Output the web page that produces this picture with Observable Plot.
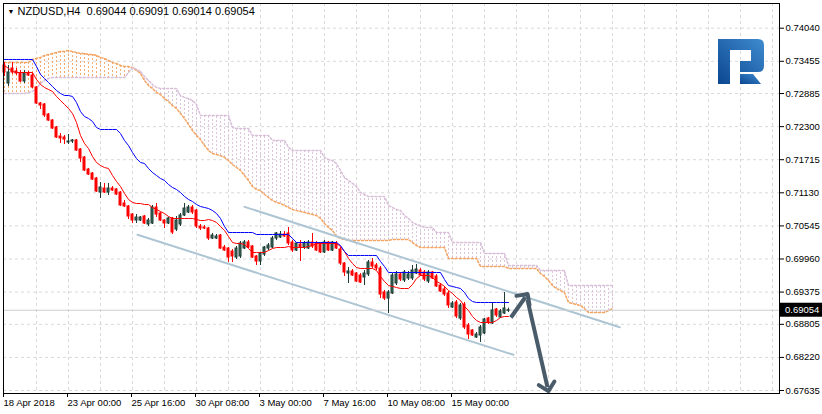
<!DOCTYPE html>
<html><head><meta charset="utf-8">
<script src="https://cdn.jsdelivr.net/npm/d3@7"></script>
<script src="https://cdn.jsdelivr.net/npm/@observablehq/plot@0.6"></script>
<style>
html,body{margin:0;padding:0;background:#fff;}
#chart{position:relative;width:822px;height:414px;overflow:hidden;}
</style></head><body><div id="chart"></div>
<script>
const symbol = "NZDUSD,H4";
const opens = [
.73381,.73062,.73328,.73275,.73239,.73098,.73239,.73204,.72992,.72709,
.72691,.72514,.72408,.72285,.72125,.72108,.72019,.72037,.72055,.71896,
.71754,.71542,.71471,.71383,.71135,.71206,.71135,.71206,.71189,.71135,
.70941,.70888,.70746,.70640,.70640,.70711,.70570,.70587,.70870,.70764,
.70640,.70587,.70676,.70481,.70570,.70729,.70782,.70870,.70817,.70534,
.70517,.70499,.70322,.70322,.70375,.70163,.70145,.70092,.69986,.70004,
.70145,.70252,.70181,.70004,.69916,.70039,.70145,.70163,.70322,.70340,
.70393,.70411,.70251,.70110,.70216,.70163,.70145,.70251,.70234,.70234,
.70075,.70251,.70110,.70234,.70128,.69880,.69703,.69739,.69703,.69668,
.69633,.69686,.69898,.69845,.69792,.69368,.69261,.69350,.69527,.69686,
.69580,.69615,.69615,.69703,.69756,.69721,.69562,.69721,.69650,.69491,
.69421,.69350,.69102,.69191,.68908,.69155,.68784,.68696,.68572,.68607,
.68643,.68908,.68819,.69067,.68926,.68996,.69044];
const highs = [
.73434,.73381,.73434,.73328,.73292,.73292,.73275,.73239,.73009,.72726,
.72709,.72532,.72426,.72302,.72178,.72143,.72161,.72072,.72072,.71913,
.71772,.71559,.71489,.71401,.71312,.71295,.71295,.71241,.71206,.71153,
.70994,.70906,.70764,.70746,.70711,.70729,.70676,.70906,.70941,.70782,
.70658,.70693,.70693,.70711,.70764,.70941,.70906,.70906,.70835,.70570,
.70552,.70517,.70411,.70393,.70393,.70199,.70163,.70128,.70181,.70269,
.70287,.70287,.70199,.70022,.70075,.70181,.70234,.70358,.70428,.70446,
.70446,.70517,.70287,.70251,.70287,.70269,.70287,.70411,.70269,.70251,
.70287,.70269,.70269,.70269,.70163,.69898,.69809,.69774,.69721,.69703,
.69756,.69933,.69969,.69880,.69827,.69403,.69403,.69703,.69739,.69721,
.69756,.69739,.69845,.69863,.69792,.69756,.69756,.69739,.69686,.69527,
.69474,.69385,.69208,.69226,.69173,.69191,.68819,.68713,.68660,.68784,
.68908,.68926,.69191,.69085,.69067,.69368,.69091];
const lows = [
.73186,.73009,.73222,.73204,.73080,.73062,.73186,.72974,.72691,.72603,
.72461,.72391,.72249,.72090,.72002,.71984,.71984,.72002,.71860,.71666,
.71507,.71436,.71348,.71135,.71029,.71118,.71082,.71153,.71082,.70888,
.70870,.70658,.70587,.70587,.70623,.70570,.70534,.70570,.70693,.70623,
.70499,.70570,.70393,.70446,.70534,.70711,.70764,.70746,.70499,.70464,
.70481,.70287,.70304,.70304,.70128,.70092,.69898,.69898,.69951,.69969,
.70128,.70145,.69969,.69845,.69845,.70004,.70110,.70145,.70287,.70322,
.70340,.70198,.70075,.70092,.69916,.70128,.70128,.70145,.70092,.70057,
.70057,.70092,.70092,.70128,.69845,.69650,.69527,.69650,.69544,.69527,
.69491,.69650,.69792,.69756,.69261,.69226,.68996,.69332,.69491,.69562,
.69544,.69580,.69580,.69686,.69650,.69562,.69527,.69597,.69456,.69368,
.69297,.69085,.69085,.68908,.68873,.68713,.68537,.68590,.68554,.68484,
.68625,.68802,.68802,.68926,.68908,.68979,.69014];
const closes = [
.73257,.73257,.73257,.73239,.73098,.73239,.73204,.72992,.72709,.72673,
.72497,.72408,.72267,.72108,.72090,.72072,.72037,.72055,.71878,.71736,
.71524,.71453,.71365,.71153,.71224,.71135,.71206,.71171,.71100,.70906,
.70888,.70711,.70640,.70693,.70693,.70587,.70640,.70870,.70746,.70640,
.70587,.70676,.70428,.70640,.70729,.70852,.70870,.70782,.70534,.70499,
.70499,.70322,.70375,.70358,.70145,.70110,.69986,.70004,.70145,.70234,
.70252,.70163,.69986,.69916,.70057,.70163,.70198,.70322,.70411,.70393,
.70358,.70234,.70110,.70234,.70163,.70234,.70251,.70181,.70110,.70075,
.70251,.70110,.70251,.70145,.69880,.69721,.69739,.69668,.69562,.69544,
.69703,.69898,.69827,.69792,.69332,.69261,.69368,.69668,.69686,.69597,
.69721,.69686,.69756,.69774,.69668,.69597,.69721,.69615,.69474,.69385,
.69332,.69138,.69173,.68943,.69138,.68749,.68625,.68607,.68625,.68749,
.68890,.68837,.69049,.68961,.69032,.69085,.69054];
const tenkan = [
.73381,.73328,.73275,.73257,.73257,.73257,.73257,.73257,.73133,.73045,
.72992,.72956,.72921,.72833,.72762,.72691,.72620,.72532,.72373,.72143,
.72002,.71913,.71772,.71666,.71613,.71577,.71560,.71436,.71330,.71241,
.71118,.71012,.70959,.70941,.70941,.70923,.70923,.70870,.70835,.70800,
.70764,.70711,.70676,.70676,.70676,.70676,.70676,.70676,.70658,.70640,
.70640,.70658,.70640,.70605,.70534,.70464,.70358,.70251,.70234,.70234,
.70216,.70145,.70075,.70075,.70075,.70075,.70110,.70145,.70163,.70163,
.70163,.70181,.70163,.70163,.70163,.70163,.70181,.70198,.70234,.70234,
.70234,.70234,.70234,.70234,.70181,.70092,.69969,.69880,.69809,.69792,
.69792,.69792,.69792,.69756,.69650,.69562,.69491,.69474,.69456,.69438,
.69438,.69438,.69509,.69615,.69668,.69668,.69668,.69633,.69562,.69527,
.69474,.69403,.69350,.69279,.69226,.69120,.69049,.68943,.68873,.68837,
.68837,.68837,.68837,.68873,.68926,.68943,.68943];
const kijun = [
.73487,.73487,.73487,.73487,.73487,.73487,.73487,.73487,.73363,.73222,
.73151,.73080,.73009,.72939,.72886,.72850,.72850,.72833,.72726,.72567,
.72479,.72444,.72391,.72285,.72249,.72249,.72249,.72249,.72249,.72178,
.72055,.71966,.71843,.71736,.71666,.71648,.71560,.71489,.71436,.71383,
.71348,.71277,.71224,.71188,.71135,.71065,.71012,.70976,.70923,.70888,
.70870,.70853,.70817,.70764,.70676,.70534,.70428,.70428,.70428,.70428,
.70428,.70428,.70428,.70393,.70393,.70393,.70393,.70393,.70393,.70393,
.70393,.70393,.70322,.70251,.70251,.70251,.70251,.70251,.70251,.70251,
.70251,.70251,.70251,.70251,.70198,.70092,.70022,.70022,.70022,.70022,
.70022,.70022,.70022,.70022,.69916,.69827,.69721,.69721,.69721,.69721,
.69721,.69721,.69721,.69721,.69721,.69721,.69721,.69721,.69721,.69721,
.69597,.69491,.69474,.69456,.69438,.69368,.69261,.69208,.69191,.69191,
.69191,.69191,.69191,.69191,.69191,.69191,.69191];
const spanA = [
.73434,.73434,.73434,.73434,.73434,.73434,.73434,.73487,.73504,.73522,
.73557,.73575,.73593,.73610,.73628,.73628,.73646,.73628,.73610,.73593,
.73593,.73575,.73575,.73557,.73522,.73504,.73469,.73434,.73416,.73381,
.73363,.73363,.73345,.73292,.73239,.73115,.73027,.72974,.72903,.72868,
.72797,.72744,.72673,.72620,.72532,.72444,.72338,.72232,.72143,.72072,
.71966,.71878,.71825,.71807,.71790,.71754,.71701,.71630,.71577,.71524,
.71436,.71348,.71241,.71188,.71171,.71100,.71047,.70994,.70959,.70941,
.70906,.70870,.70835,.70817,.70800,.70782,.70764,.70746,.70729,.70676,
.70587,.70517,.70464,.70358,.70322,.70304,.70287,.70287,.70287,.70287,
.70287,.70287,.70287,.70287,.70287,.70287,.70287,.70304,.70304,.70304,
.70304,.70304,.70251,.70198,.70163,.70163,.70163,.70163,.70163,.70163,
.70163,.69969,.69969,.69969,.69969,.69969,.69969,.69969,.69969,.69827,
.69827,.69827,.69827,.69827,.69827,.69827,.69792,.69792,.69792,.69792,
.69792,.69792,.69792,.69792,.69703,.69650,.69580,.69491,.69438,.69403,
.69368,.69191,.69173,.69155,.69138,.69085,.69014,.69014,.69014,.69014,
.69014,.69049,.69085];
const spanB = [
.72886,.72886,.72886,.72886,.72886,.72886,.72903,.72921,.72974,.73062,
.73115,.73151,.73168,.73168,.73168,.73168,.73168,.73168,.73168,.73168,
.73168,.73168,.73168,.73168,.73168,.73168,.73168,.73168,.73168,.73168,
.73168,.73257,.73345,.73310,.73275,.73186,.73115,.73045,.72992,.72974,
.72974,.72974,.72974,.72974,.72850,.72815,.72797,.72762,.72691,.72497,
.72497,.72497,.72497,.72497,.72497,.72497,.72497,.72285,.72267,.72267,
.72267,.72267,.72143,.72143,.72143,.72143,.72143,.72055,.72055,.72055,
.72055,.71931,.71878,.71878,.71878,.71878,.71878,.71878,.71878,.71878,
.71754,.71719,.71701,.71648,.71524,.71401,.71348,.71295,.71241,.71135,
.71100,.71065,.71065,.71065,.71065,.71065,.70906,.70870,.70835,.70817,
.70729,.70676,.70605,.70570,.70552,.70517,.70517,.70517,.70428,.70428,
.70428,.70428,.70251,.70251,.70251,.70251,.70251,.70251,.70251,.70251,
.70057,.70057,.70057,.70057,.70057,.70057,.69845,.69845,.69845,.69845,
.69845,.69845,.69845,.69845,.69756,.69756,.69756,.69756,.69756,.69756,
.69756,.69491,.69491,.69491,.69491,.69491,.69491,.69491,.69491,.69491,
.69491,.69491,.69491];
const yTicks = [0.74040,0.73455,0.72885,0.72300,0.71715,0.71130,0.70545,0.69960,0.69375,0.68805,0.68220,0.67635];
const xTickBars = [0,16,32,48,64,80,96,112];
const xTickLabels = ["18 Apr 2018","23 Apr 00:00","25 Apr 16:00","30 Apr 08:00","3 May 00:00","7 May 16:00","10 May 08:00","15 May 00:00"];
const gridBars = [8,16,24,32,40,48,56,64,72,80,88,96,104,112,120,128,136,144,152,160,168,176,184,192];
const channelUpperBars = [60, 153.8];
const channelUpperPrices = [0.70882, 0.68754];
const channelLowerBars = [33.25, 127.25];
const channelLowerPrices = [0.70388, 0.68266];
const arrowStartBars = [126.6, 130.75];
const arrowStartPrices = [0.68926, 0.69238];
const arrowEndBars = [130.2, 135.75];
const arrowEndPrices = [0.69284, 0.67693];

const fmt = d3.format(".5f");
const last = closes.length - 1;
const candles = opens.map((o, i) => ({i, open: o, high: highs[i], low: lows[i], close: closes[i], up: closes[i] >= o}));
const ichi = tenkan.map((t, i) => ({i, t, k: kijun[i]}));
const cloud = spanA.map((a, i) => ({i, a, b: spanB[i]}));
const upper = channelUpperBars.map((b, j) => ({i: b, p: channelUpperPrices[j]}));
const lower = channelLowerBars.map((b, j) => ({i: b, p: channelLowerPrices[j]}));
const arrows = arrowStartBars.map((b, j) => ({x1: b, y1: arrowStartPrices[j], x2: arrowEndBars[j], y2: arrowEndPrices[j]}));
const header = symbol + "\u00a0\u00a0" + [opens[last], highs[last], lows[last], closes[last]].map(fmt).join(" ");

const BULL = "#3a6f60", BULL_EDGE = "#1d3b33", BEAR = "#ff0000";
const GRID = "#d9d9d9";

const chart = Plot.plot({
  width: 822, height: 414,
  marginLeft: 3, marginRight: 43, marginTop: 3, marginBottom: 21,
  style: {background: "#ffffff", fontFamily: "Liberation Sans, Arial, sans-serif", fontSize: "9.5px", color: "#000", overflow: "visible"},
  x: {domain: [-0.25, 193.75]},
  y: {domain: [0.675820, 0.744767]},
  marks: [
    Plot.gridY(yTicks, {stroke: GRID, strokeOpacity: 1, strokeDasharray: "3,3"}),
    Plot.gridX(gridBars, {stroke: GRID, strokeOpacity: 1, strokeDasharray: "3,3"}),
    Plot.ruleX(cloud, {x: "i", y1: "a", y2: "b", stroke: d => d.a >= d.b ? "#F4A460" : "#D8BFD8", strokeDasharray: "2,2", strokeOpacity: 0.9}),
    Plot.line(cloud, {x: "i", y: "a", stroke: "#F4A460", strokeDasharray: "2,2"}),
    Plot.line(cloud, {x: "i", y: "b", stroke: "#D8BFD8", strokeDasharray: "2,2"}),
    Plot.line(upper, {x: "i", y: "p", stroke: "#aec5d3", strokeWidth: 2}),
    Plot.line(lower, {x: "i", y: "p", stroke: "#aec5d3", strokeWidth: 2}),
    Plot.ruleY([closes[last]], {stroke: "#cfcfcf"}),
    Plot.ruleX(candles, {x: "i", y1: "low", y2: "high", stroke: d => d.up ? BULL_EDGE : BEAR}),
    Plot.rect(candles, {x1: d => d.i - 0.25, x2: d => d.i + 0.25, y1: "open", y2: "close",
      fill: d => d.up ? BULL : BEAR, stroke: d => d.up ? BULL_EDGE : BEAR}),
    Plot.line(ichi, {x: "i", y: "t", stroke: "#ff0000", strokeWidth: 1}),
    Plot.line(ichi, {x: "i", y: "k", stroke: "#0000ff", strokeWidth: 1}),
    Plot.link(arrows, {x1: "x1", y1: "y1", x2: "x2", y2: "y2", stroke: "#4a5b6a", strokeWidth: 4, markerEnd: "arrow"}),
    Plot.frame({stroke: "#000"}),
    Plot.axisY(yTicks, {anchor: "right", tickFormat: fmt, tickSize: 4, tickPadding: 2, label: null, fontSize: 9.5}),
    Plot.axisX(xTickBars, {anchor: "bottom", tickFormat: d => xTickLabels[xTickBars.indexOf(d)], tickSize: 4, tickPadding: 2, textAnchor: "start", dx: -1, label: null, fontSize: 9.5}),
    Plot.text(["\u25BC"], {frameAnchor: "top-left", dx: 4, dy: 8, fontSize: 7, textAnchor: "start", lineAnchor: "middle", fill: "#000"}),
    Plot.text([header], {frameAnchor: "top-left", dx: 14, dy: 8, fontSize: 11, textAnchor: "start", lineAnchor: "middle", fill: "#000"})
  ]
});
document.getElementById("chart").appendChild(chart);

// Price label on the right axis, placed through the chart's own y scale
const svg = d3.select(chart);
const yScale = chart.scale("y");
const yp = yScale.apply(closes[last]);
const tag = svg.append("g").attr("text-anchor", "start");
tag.append("rect").attr("x", 780).attr("y", yp - 7).attr("width", 42).attr("height", 14).attr("fill", "#000");
tag.append("text").attr("x", 785).attr("y", yp + 3.4).attr("fill", "#fff").attr("font-size", 9.5)
  .attr("text-anchor", "start")
  .attr("font-family", "Liberation Sans, Arial, sans-serif").text(fmt(closes[last]));

// Broker logo (watermark)
const defs = svg.append("defs");
const grad = defs.append("linearGradient").attr("id", "logoGrad").attr("x1", "0").attr("y1", "1").attr("x2", "1").attr("y2", "0");
grad.append("stop").attr("offset", "0").attr("stop-color", "#0b4790");
grad.append("stop").attr("offset", "1").attr("stop-color", "#3f8bd0");
const logo = svg.append("g").attr("fill", "url(#logoGrad)");
logo.append("path").attr("d", "M718,39 H758 Q764,39 764,45 V66 Q764,72 758,72 H740 V61 H751 V50 H730 V84 H718 Z");
logo.append("path").attr("d", "M740,74 H753 L761,84 H740 Z");
</script>
</body></html>
